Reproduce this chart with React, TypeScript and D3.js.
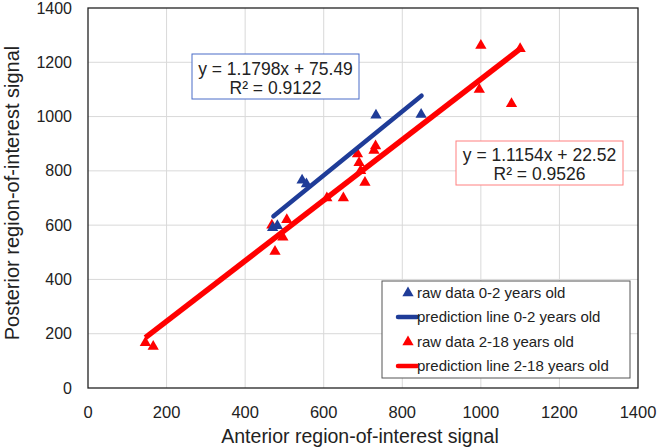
import React from "react";
import * as d3 from "d3";

const xTicks = [0, 200, 400, 600, 800, 1000, 1200, 1400];
const yTicks = [0, 200, 400, 600, 800, 1000, 1200, 1400];

const blueX = [470, 482, 545, 556, 733, 848];
const blueY = [590, 598, 765, 752, 1005, 1008];

const redX = [146, 166, 468, 476, 496, 506, 608, 650, 686, 690, 694, 705, 728, 732, 996, 1000, 1078, 1100];
const redY = [167, 153, 600, 503, 555, 620, 700, 700, 862, 830, 800, 757, 875, 892, 1100, 1262, 1047, 1250];

const blueFit = { slope: 1.1798, intercept: 75.49, x0: 472, x1: 849 };
const redFit = { slope: 1.1154, intercept: 22.52, x0: 146, x1: 1100 };

const legendLabels = [
  "raw data 0-2 years old",
  "prediction line 0-2 years old",
  "raw data 2-18 years old",
  "prediction line 2-18 years old",
];

const BLUE = "#1F3C98";
const RED = "#FF0000";
const FONT = "'Liberation Sans', Arial, sans-serif";

export default function App() {
  const W = 657, H = 447;
  const L = 88, R = 638, T = 8, B = 388;
  const x = d3.scaleLinear().domain([0, 1400]).range([L, R]);
  const y = d3.scaleLinear().domain([0, 1400]).range([B, T]);
  const tri = d3.symbol().type(d3.symbolTriangle).size(55)();
  const line = d3.line<number>().x((d) => x(d[0])).y((d) => y(d[1]));
  const fitPath = (f: typeof blueFit) =>
    line([[f.x0, f.slope * f.x0 + f.intercept], [f.x1, f.slope * f.x1 + f.intercept]] as any);

  const legY = [293, 317, 342, 366];
  return (
    <div style={{ position: "absolute", left: 0, top: 0 }}>
      <svg width={W} height={H} style={{ display: "block" }} fontFamily={FONT}>
        <rect x={0} y={0} width={W} height={H} fill="#fff" />
        {xTicks.slice(1, -1).map((t) => (
          <line key={"gx" + t} x1={x(t)} x2={x(t)} y1={T} y2={B} stroke="#d9d9d9" strokeWidth={1} />
        ))}
        {yTicks.slice(1, -1).map((t) => (
          <line key={"gy" + t} x1={L} x2={R} y1={y(t)} y2={y(t)} stroke="#d9d9d9" strokeWidth={1} />
        ))}
        <rect x={L} y={T} width={R - L} height={B - T} fill="none" stroke="#222" strokeWidth={1.3} />
        {xTicks.map((t) => (
          <text key={"tx" + t} x={x(t)} y={418} textAnchor="middle" fontSize={16.5} fill="#222">{t}</text>
        ))}
        {yTicks.map((t) => (
          <text key={"ty" + t} x={72} y={y(t) + 5.5} textAnchor="end" fontSize={16} fill="#222">{t}</text>
        ))}
        <text x={(L + R) / 2 - 3} y={443} textAnchor="middle" fontSize={19.5} fill="#222">Anterior region-of-interest signal</text>
        <text transform={`translate(19,193) rotate(-90)`} textAnchor="middle" fontSize={20} fill="#222">Posterior region-of-interest signal</text>

        {redX.map((v, i) => (
          <path key={"r" + i} d={tri!} transform={`translate(${x(v)},${y(redY[i])})`} fill={RED} />
        ))}
        {blueX.map((v, i) => (
          <path key={"b" + i} d={tri!} transform={`translate(${x(v)},${y(blueY[i])})`} fill={BLUE} />
        ))}
        <path d={fitPath(redFit)!} stroke={RED} strokeWidth={5.5} fill="none" />
        <path d={fitPath(blueFit)!} stroke={BLUE} strokeWidth={4.5} fill="none" strokeLinecap="round" />

        <rect x={192} y={54} width={167} height={45} fill="#fff" stroke="#4a6cc8" strokeWidth={1} />
        <text x={275.5} y={75} textAnchor="middle" fontSize={17.5} fill="#222">y = 1.1798x + 75.49</text>
        <text x={275.5} y={94} textAnchor="middle" fontSize={17.5} fill="#222">R² = 0.9122</text>

        <rect x={456} y={141} width={167} height={44} fill="#fff" stroke="#ff8080" strokeWidth={1} />
        <text x={539.5} y={161} textAnchor="middle" fontSize={17.5} fill="#222">y = 1.1154x + 22.52</text>
        <text x={539.5} y={180} textAnchor="middle" fontSize={17.5} fill="#222">R² = 0.9526</text>

        <rect x={382} y={281} width={248} height={97} fill="#fff" stroke="#555" strokeWidth={1} />
        {legendLabels.map((lab, i) => {
          const c = i < 2 ? BLUE : RED;
          const isLine = i % 2 === 1;
          return (
            <g key={"lg" + i}>
              {isLine ? (
                <line x1={398} x2={417} y1={legY[i]} y2={legY[i]} stroke={c} strokeWidth={4.5} strokeLinecap="round" />
              ) : (
                <path d={tri!} transform={`translate(408,${legY[i]})`} fill={c} />
              )}
              <text x={417} y={legY[i] + 5} fontSize={15} fill="#222">{lab}</text>
            </g>
          );
        })}
      </svg>
    </div>
  );
}
